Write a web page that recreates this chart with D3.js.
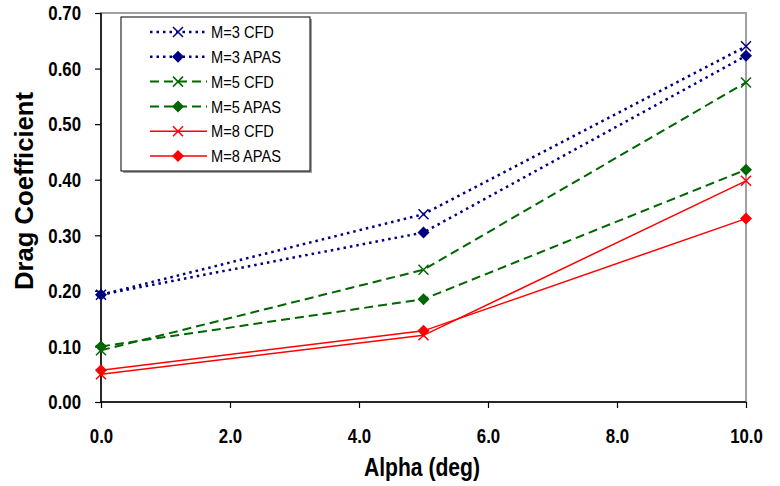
<!DOCTYPE html>
<html>
<head>
<meta charset="utf-8">
<script src="https://cdn.jsdelivr.net/npm/d3@7"></script>
<style>
  body { margin: 0; background: #fff; }
  text { font-family: "Liberation Sans Narrow", "Arial Narrow", "Liberation Sans", Arial, sans-serif; }
</style>
</head>
<body>
<svg width="780" height="486"></svg>
<script>
let alpha = [0, 5, 10]
let m3Cfd = [0.193, 0.338, 0.640]
let m3Apas = [0.193, 0.305, 0.623]
let m5Cfd = [0.093, 0.238, 0.575]
let m5Apas = [0.100, 0.185, 0.418]
let m8Cfd = [0.050, 0.120, 0.398]
let m8Apas = [0.057, 0.128, 0.330]
let xTicks = [0, 2, 4, 6, 8, 10]
let yTicks = [0, 0.1, 0.2, 0.3, 0.4, 0.5, 0.6, 0.7]

let series = [
  { name: 'M=3 CFD', values: m3Cfd, color: '#000080', dash: '2.5,4', width: 2.5, marker: 'x' },
  { name: 'M=3 APAS', values: m3Apas, color: '#000080', dash: '2.5,4', width: 2.5, marker: 'diamond' },
  { name: 'M=5 CFD', values: m5Cfd, color: '#006600', dash: '9,5', width: 2, marker: 'x' },
  { name: 'M=5 APAS', values: m5Apas, color: '#006600', dash: '9,5', width: 2, marker: 'diamond' },
  { name: 'M=8 CFD', values: m8Cfd, color: '#ff0000', dash: null, width: 1.5, marker: 'x' },
  { name: 'M=8 APAS', values: m8Apas, color: '#ff0000', dash: null, width: 1.5, marker: 'diamond' }
]

let margin = { top: 13, bottom: 84, left: 101, right: 34 }
let width = 780
let height = 486
let narrow = 0.8

let xScale = d3.scaleLinear()
  .domain([0, 10])
  .range([margin.left, width - margin.right])
let yScale = d3.scaleLinear()
  .domain([0, 0.7])
  .range([height - margin.bottom, margin.top])

let svg = d3.select('svg')

// plot area border (gray)
svg.append('rect')
  .attr('x', margin.left)
  .attr('y', margin.top)
  .attr('width', width - margin.right - margin.left)
  .attr('height', height - margin.bottom - margin.top)
  .attr('fill', 'none')
  .attr('stroke', '#a0a0a0')
  .attr('stroke-width', 2)

let xAxis = d3.axisBottom(xScale)
  .tickValues(xTicks)
  .tickFormat(d3.format('.1f'))
  .tickSize(6)
let yAxis = d3.axisLeft(yScale)
  .tickValues(yTicks)
  .tickFormat(d3.format('.2f'))
  .tickSize(6)

let gx = svg.append('g')
  .attr('transform', 'translate(' + [0, height - margin.bottom] + ')')
  .call(xAxis)
let gy = svg.append('g')
  .attr('transform', 'translate(' + [margin.left, 0] + ')')
  .call(yAxis)

svg.selectAll('.domain').attr('d', null)
gx.append('line')
  .attr('x1', margin.left).attr('x2', width - margin.right)
  .attr('stroke', '#000').attr('stroke-width', 1.5)
gy.append('line')
  .attr('y1', margin.top).attr('y2', height - margin.bottom)
  .attr('stroke', '#000').attr('stroke-width', 1.5)

svg.selectAll('.tick line').attr('stroke', '#000').attr('stroke-width', 1.2)
svg.selectAll('.tick text')
  .attr('font-size', 21)
  .attr('font-weight', 'bold')
  .attr('fill', '#000')
  .style('font-family', '"Liberation Sans Narrow", "Arial Narrow", "Liberation Sans", sans-serif')
gx.selectAll('.tick text')
  .attr('y', 26)
  .attr('transform', 'scale(' + narrow + ',1)')
gy.selectAll('.tick text')
  .attr('x', -20 / narrow)
  .attr('transform', 'scale(' + narrow + ',1)')

svg.append('text')
  .attr('x', 422)
  .attr('y', 476)
  .attr('text-anchor', 'middle')
  .attr('font-size', 25)
  .attr('font-weight', 'bold')
  .attr('textLength', 116)
  .attr('lengthAdjust', 'spacingAndGlyphs')
  .text('Alpha (deg)')

svg.append('text')
  .attr('transform', 'translate(33,191) rotate(-90)')
  .attr('text-anchor', 'middle')
  .attr('font-size', 25)
  .attr('font-weight', 'bold')
  .attr('textLength', 198)
  .attr('lengthAdjust', 'spacingAndGlyphs')
  .text('Drag Coefficient')

let line = d3.line()
  .x((d, i) => xScale(alpha[i]))
  .y(d => yScale(d))

function drawMarker(g, type, color) {
  if (type === 'x') {
    g.append('path')
      .attr('d', 'M-5,-5L5,5M-5,5L5,-5')
      .attr('stroke', color)
      .attr('stroke-width', 1.5)
      .attr('fill', 'none')
  } else {
    g.append('path')
      .attr('d', 'M0,-6L6,0L0,6L-6,0Z')
      .attr('fill', color)
  }
}

series.forEach(s => {
  svg.append('path')
    .datum(s.values)
    .attr('d', line)
    .attr('fill', 'none')
    .attr('stroke', s.color)
    .attr('stroke-width', s.width)
    .attr('stroke-dasharray', s.dash)
})

series.forEach(s => {
  s.values.forEach((v, i) => {
    let g = svg.append('g')
      .attr('transform', 'translate(' + [xScale(alpha[i]), yScale(v)] + ')')
    drawMarker(g, s.marker, s.color)
  })
})

// legend
let legend = svg.append('g')
legend.append('rect')
  .attr('x', 123).attr('y', 19)
  .attr('width', 189).attr('height', 154)
  .attr('fill', '#a0a0a0')
legend.append('rect')
  .attr('x', 121).attr('y', 17)
  .attr('width', 189).attr('height', 154)
  .attr('fill', '#fff')
  .attr('stroke', '#000')
  .attr('stroke-width', 1)

series.forEach((s, i) => {
  let y = 32 + i * 24.8
  legend.append('line')
    .attr('x1', 150).attr('x2', 207)
    .attr('y1', y).attr('y2', y)
    .attr('stroke', s.color)
    .attr('stroke-width', s.width)
    .attr('stroke-dasharray', s.dash)
  let g = legend.append('g').attr('transform', 'translate(' + [178, y] + ')')
  drawMarker(g, s.marker, s.color)
  legend.append('text')
    .attr('transform', 'translate(211,' + y + ') scale(0.86,1)')
    .attr('dy', '0.36em')
    .attr('font-size', 17)
    .text(s.name)
})
</script>
</body>
</html>
